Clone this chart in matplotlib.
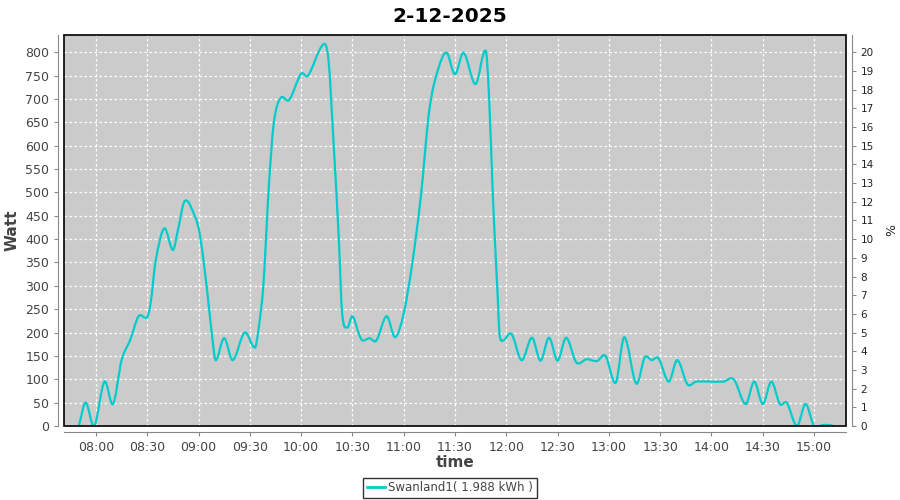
import pandas as pd
import numpy as np
import matplotlib
matplotlib.use('Agg')
import matplotlib.pyplot as plt
import matplotlib.dates as mdates
import matplotlib.patches as mpatches
from matplotlib.path import Path

# ── Data ───────────────────────────────────────────────────────────────────
times = ['07:50', '07:54', '07:59', '08:05', '08:10', '08:15', '08:20', '08:25',
         '08:30', '08:32', '08:35', '08:40', '08:45', '08:48', '08:52', '08:58',
         '09:01', '09:05', '09:08', '09:10', '09:15', '09:20', '09:27', '09:33',
         '09:35', '09:38', '09:41', '09:44', '09:48', '09:53', '10:00', '10:04',
         '10:13', '10:16', '10:19', '10:22', '10:24', '10:27', '10:30', '10:34',
         '10:36', '10:40', '10:44', '10:50', '10:55', '11:00', '11:05', '11:10',
         '11:15', '11:20', '11:25', '11:30', '11:35', '11:42', '11:48', '11:50',
         '11:52', '11:54', '11:55', '11:56', '11:58', '12:03', '12:09', '12:15',
         '12:20', '12:25', '12:30', '12:35', '12:41', '12:47', '12:53', '12:58',
         '13:04', '13:09', '13:16', '13:21', '13:25', '13:29', '13:35', '13:40',
         '13:46', '13:51', '14:07', '14:13', '14:20', '14:25', '14:30', '14:35',
         '14:40', '14:44', '14:50', '14:55', '15:00', '15:05', '15:09', '15:11']
watt = [0, 50, 0, 95, 47, 141, 184, 235,
        233, 263, 355, 423, 377, 420, 482, 448,
        405, 291, 191, 141, 188, 141, 200, 168,
        205, 305, 505, 648, 702, 698, 754, 750,
        817, 784, 605, 405, 241, 211, 235, 195,
        183, 188, 183, 235, 190, 241, 348, 491,
        677, 762, 799, 753, 799, 732, 803, 698,
        505, 348, 277, 198, 183, 197, 141, 189,
        140, 189, 140, 189, 136, 143, 139, 150,
        93, 190, 91, 147, 141, 145, 95, 141,
        89, 95, 95, 100, 47, 95, 47, 95,
        47, 50, 0, 47, 0, 2, 2, 0]

day = '2025-12-02'
title = '2-12-2025'
series_label = 'Swanland1( 1.988 kWh )'
x_ticks = ['08:00', '08:30', '09:00', '09:30', '10:00', '10:30', '11:00', '11:30',
           '12:00', '12:30', '13:00', '13:30', '14:00', '14:30', '15:00']

t = pd.to_datetime([f'{day} {s}' for s in times])
tick_t = pd.to_datetime([f'{day} {s}' for s in x_ticks])

LINE = '#00CCCC'
AXC = '#888888'
TXT = '#444444'


def spline_path(xs, ys):
    # cubic Hermite curve through the points, drawn as bezier segments
    xs = np.asarray(xs, float)
    ys = np.asarray(ys, float)
    n = len(xs)
    m = np.zeros(n)
    m[1:-1] = (ys[2:] - ys[:-2]) / (xs[2:] - xs[:-2])
    m[0] = (ys[1] - ys[0]) / (xs[1] - xs[0])
    m[-1] = (ys[-1] - ys[-2]) / (xs[-1] - xs[-2])
    verts = [(xs[0], ys[0])]
    codes = [Path.MOVETO]
    for i in range(n - 1):
        dx = (xs[i + 1] - xs[i]) / 3
        verts += [(xs[i] + dx, ys[i] + m[i] * dx),
                  (xs[i + 1] - dx, ys[i + 1] - m[i + 1] * dx),
                  (xs[i + 1], ys[i + 1])]
        codes += [Path.CURVE4] * 3
    return Path(verts, codes)


fig = plt.figure(figsize=(9, 5), dpi=100)
fig.patch.set_facecolor('white')
ax = fig.add_axes([64/900, 74/500, 782/900, 391/500])
ax.set_facecolor('#CBCBCB')

ax.xaxis_date()
ax.add_patch(mpatches.PathPatch(spline_path(mdates.date2num(t), watt), fill=False,
                                edgecolor=LINE, lw=1.6, zorder=3))

ax.set_xlim(pd.Timestamp(f'{day} 07:41:20'), pd.Timestamp(f'{day} 15:18:40'))
ax.set_ylim(0, 837)
ax.set_yticks(np.arange(0, 801, 50))
ax.set_xticks(tick_t)
ax.xaxis.set_major_formatter(mdates.DateFormatter('%H:%M'))
ax.grid(True, color='white', linestyle=(0, (2, 2)), lw=0.9)
ax.set_axisbelow(True)

for s in ['top', 'right']:
    ax.spines[s].set_visible(False)
for s in ['left', 'bottom']:
    ax.spines[s].set_position(('outward', 4))
    ax.spines[s].set_color(AXC)
ax.tick_params(colors=AXC, labelcolor=TXT, labelsize=9, length=3, direction='out')

# black plot outline
ax.add_patch(mpatches.Rectangle((0, 0), 1, 1, transform=ax.transAxes, fill=False,
                                edgecolor='black', lw=1.2, zorder=5, clip_on=False))

ax.set_ylabel('Watt', fontsize=11, color=TXT, fontweight='bold', labelpad=4)
ax.set_xlabel('time', fontsize=11, color=TXT, fontweight='bold', labelpad=1)

# right axis (percent)
ax2 = ax.twinx()
ax2.set_ylim(0, 837 / 40)
ax2.set_yticks(np.arange(0, 21, 1))
for s in ['top', 'left', 'bottom']:
    ax2.spines[s].set_visible(False)
ax2.spines['right'].set_position(('outward', 4))
ax2.spines['right'].set_color(AXC)
ax2.tick_params(colors=AXC, labelcolor='#222222', labelsize=7.5, length=3, direction='out')
ax2.set_ylabel('%', fontsize=9, color='#222222', labelpad=8)

fig.suptitle(title, fontsize=14.5, fontweight='bold', y=0.985)

leg = fig.legend(handles=[plt.Line2D([0], [0], color=LINE, lw=2)],
                 labels=[series_label], loc='center', bbox_to_anchor=(450/900, 12/500),
                 fontsize=8.5, frameon=True, fancybox=False, edgecolor='black',
                 handlelength=1.5, handletextpad=0.3, borderpad=0.3, labelcolor=TXT)
leg.get_frame().set_linewidth(1.0)

fig.savefig('out.png', dpi=100, facecolor='white')
